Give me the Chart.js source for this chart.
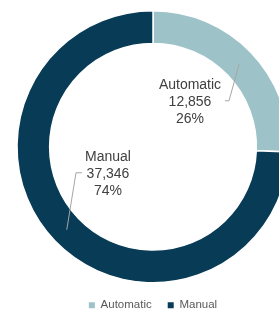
<!DOCTYPE html>
<html>
<head>
<meta charset="utf-8">
<script src="https://cdn.jsdelivr.net/npm/chart.js@4"></script>
<style>
  html, body { margin: 0; padding: 0; background: #fff; overflow: hidden; }
  body { width: 279px; height: 309px; }
  canvas { display: block; }
</style>
</head>
<body>
<canvas id="donut" width="306" height="321"></canvas>
<script>
  // Datos
  const categories = ["Automatic", "Manual"];
  const values = [12856, 37346];
  const colors = ["#9DC3C9", "#073B56"];

  // Posición de etiquetas (relativa al centro) y codo de la línea guía
  const labelPlace = [
    { dx: 37, dy: -45, elbowX: 76, elbowY: -46, endX: 72 },
    { dx: -45, dy: 27, elbowX: -77, elbowY: 26, endX: -71 }
  ];

  const total = values.reduce((a, b) => a + b, 0);

  const sliceLabels = {
    id: "sliceLabels",
    afterDatasetsDraw(chart) {
      const ctx = chart.ctx;
      const meta = chart.getDatasetMeta(0);
      ctx.save();
      meta.data.forEach((arc, i) => {
        const cx = arc.x, cy = arc.y;
        const p = arc.getCenterPoint();
        const lp = labelPlace[i];
        // línea guía
        ctx.strokeStyle = "#A6A6A6";
        ctx.lineWidth = 1;
        ctx.beginPath();
        ctx.moveTo(p.x, p.y);
        ctx.lineTo(cx + lp.elbowX, cy + lp.elbowY);
        ctx.lineTo(cx + lp.endX, cy + lp.elbowY);
        ctx.stroke();
        // texto
        const lines = [
          categories[i],
          values[i].toLocaleString("en-US"),
          Math.round(values[i] / total * 100) + "%"
        ];
        ctx.fillStyle = "#404040";
        ctx.font = "14px 'Liberation Sans', Arial, sans-serif";
        ctx.textAlign = "center";
        ctx.textBaseline = "middle";
        lines.forEach((t, k) => {
          ctx.fillText(t, cx + lp.dx, cy + lp.dy + (k - 1) * 17);
        });
      });
      ctx.restore();
    }
  };

  new Chart(document.getElementById("donut"), {
    type: "doughnut",
    data: {
      labels: categories,
      datasets: [
        {
          data: values,
          backgroundColor: colors,
          borderColor: "#ffffff",
          borderWidth: 1.5
        }
      ]
    },
    options: {
      responsive: false,
      animation: false,
      cutout: "76%",
      layout: { padding: { top: 10 } },
      plugins: {
        tooltip: { enabled: false },
        legend: {
          position: "bottom",
          labels: {
            boxWidth: 6,
            boxHeight: 6,
            padding: 16,
            color: "#595959",
            font: { family: "'Liberation Sans', Arial, sans-serif", size: 11.5 },
            generateLabels(chart) {
              return categories.map((c, i) => ({
                text: c,
                fillStyle: colors[i],
                strokeStyle: colors[i],
                lineWidth: 0,
                fontColor: "#595959",
                hidden: false,
                index: i
              }));
            }
          }
        }
      }
    },
    plugins: [sliceLabels]
  });
</script>
</body>
</html>
